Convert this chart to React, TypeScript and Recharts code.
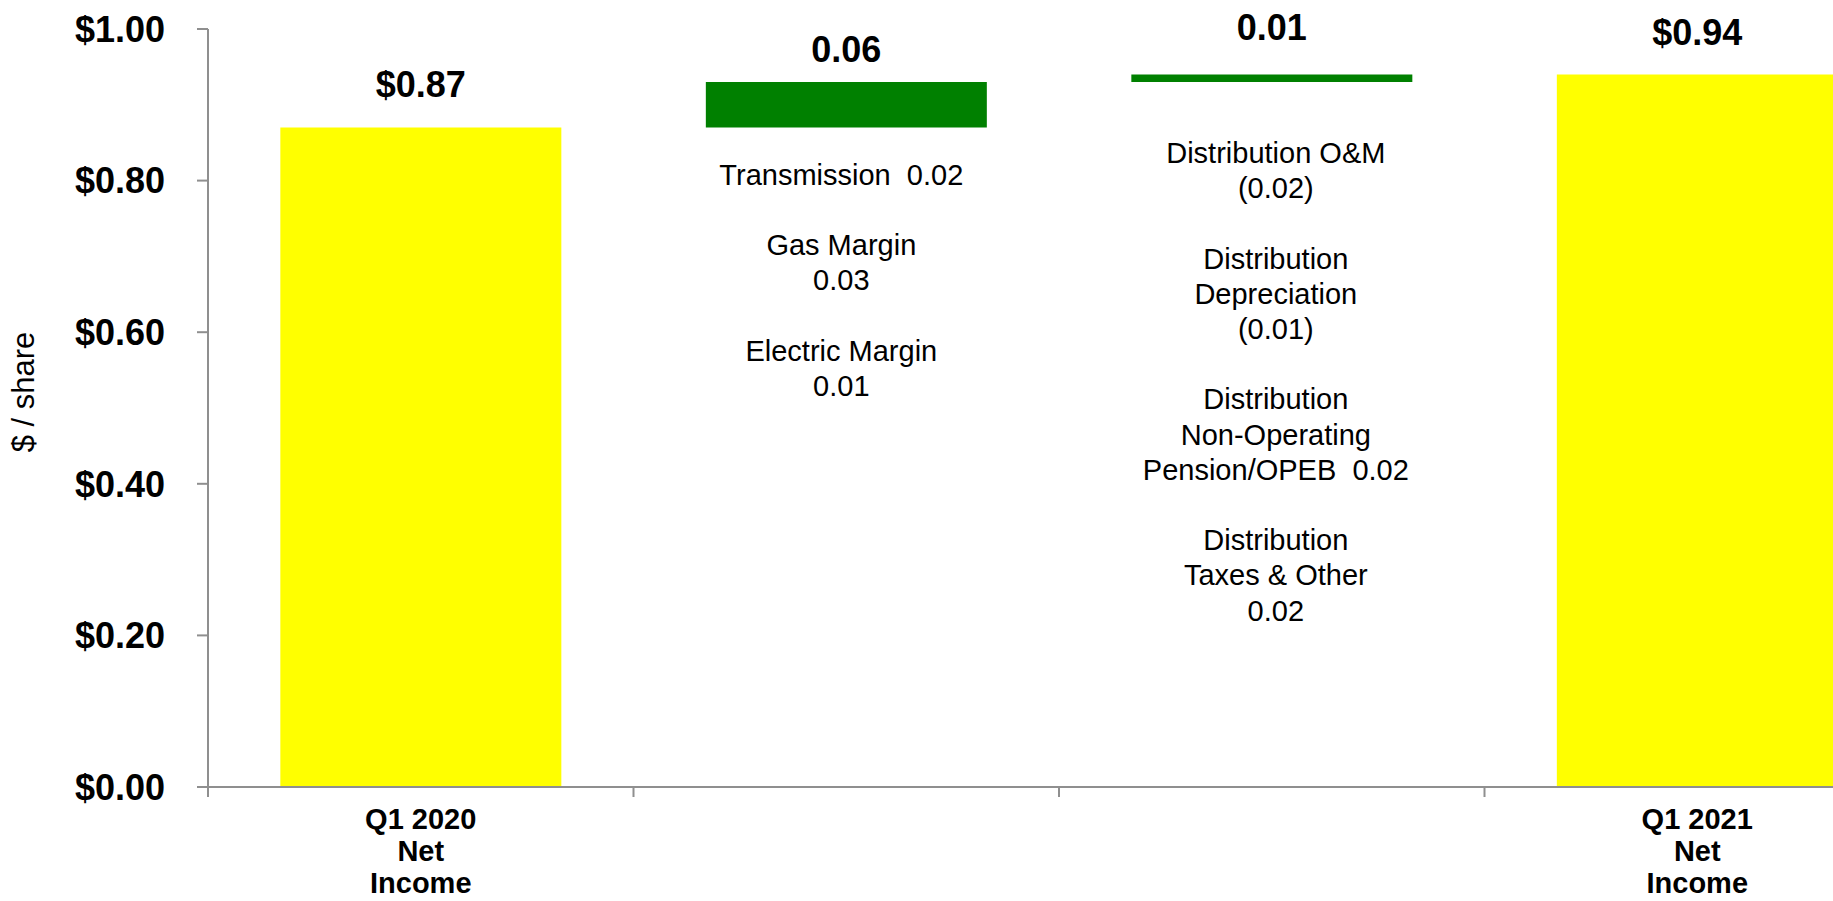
import React from 'react';
import { BarChart, Bar, XAxis, YAxis, Cell, LabelList, Label } from 'recharts';

// waterfall: Q1 2020 -> drivers -> Q1 2021 ($ / share)
const categories = ['Q1 2020 Net Income', 'Transmission & Margins', 'Distribution', 'Q1 2021 Net Income'];
const tickLabels = [['Q1 2020', 'Net', 'Income'], [], [], ['Q1 2021', 'Net', 'Income']];
const baseValues = [0, 0.87, 0.93, 0];
const deltaValues = [0.87, 0.06, 0.01, 0.94];
const barLabels = ['$0.87', '0.06', '0.01', '$0.94'];
const barColors = ['#FFFF00', '#008000', '#008000', '#FFFF00'];
const yTicks = [0, 0.2, 0.4, 0.6, 0.8, 1.0];
const notes: string[][] = [
  [],
  ['Transmission  0.02', '', 'Gas Margin', '0.03', '', 'Electric Margin', '0.01'],
  [
    'Distribution O&M', '(0.02)', '',
    'Distribution', 'Depreciation', '(0.01)', '',
    'Distribution', 'Non-Operating', 'Pension/OPEB  0.02', '',
    'Distribution', 'Taxes & Other', '0.02',
  ],
  [],
];

const data = categories.map((name, i) => ({
  name,
  base: baseValues[i],
  delta: deltaValues[i],
  label: barLabels[i],
}));

const FONT = '"Liberation Sans", Arial, Helvetica, sans-serif';
const AXIS = '#8f8f8f';
// hand-placed text boxes in the original slide
const labelGap = [31, 20, 34, 29];
const noteGap = [0, 47, 71, 0];
const noteShift = [0, -5, 4, 0];
const noteLine = 35.2;

const ValueLabel = (props: any) => {
  const vb = props.viewBox || props;
  const idx = props.index;
  return (
    <text x={vb.x + vb.width / 2} y={vb.y - labelGap[idx]} textAnchor="middle" fontSize={36}
      fontWeight="bold" fill="#000" fontFamily={FONT}>
      {props.value}
    </text>
  );
};

const NoteLabel = (props: any) => {
  const vb = props.viewBox || props;
  const idx = props.index;
  const lines = notes[idx];
  if (!lines || !lines.length) return null;
  const cx = vb.x + vb.width / 2 + noteShift[idx];
  const top = vb.y + vb.height + noteGap[idx];
  return (
    <g>
      {lines.map((line, i) =>
        line ? (
          <text key={i} x={cx} y={top + i * noteLine + 10} textAnchor="middle" fontSize={29}
            fill="#000" fontFamily={FONT} style={{ whiteSpace: 'pre' }}>
            {line}
          </text>
        ) : null
      )}
    </g>
  );
};

// category labels centred under bars, tick marks on the category boundaries
const CategoryTick = (props: any) => {
  const { x, y, payload, width, visibleTicksCount, index } = props;
  const half = payload.offset || width / visibleTicksCount / 2;
  const lines = tickLabels[index] || [];
  const edges = index === visibleTicksCount - 1 ? [x - half, x + half] : [x - half];
  return (
    <g>
      {edges.map((ex, i) => (
        <line key={`e${i}`} x1={ex} x2={ex} y1={y} y2={y + 10} stroke={AXIS} strokeWidth={2} />
      ))}
      {lines.map((l, i) => (
        <text key={i} x={x} y={y + 42 + i * 32} textAnchor="middle" fontSize={29}
          fontWeight="bold" fill="#000" fontFamily={FONT}>
          {l}
        </text>
      ))}
    </g>
  );
};

const YTitle = (props: any) => {
  const vb = props.viewBox;
  const cx = vb.x + 23;
  const cy = vb.y + vb.height / 2 - 16;
  return (
    <text x={cx} y={cy} transform={`rotate(-90, ${cx}, ${cy})`} textAnchor="middle"
      dominantBaseline="central" fontSize={31} fill="#000" fontFamily={FONT}>
      $ / share
    </text>
  );
};

export default function App() {
  return (
    <div style={{ position: 'fixed', left: 0, top: 0, width: 1833, height: 901, overflow: 'hidden', background: '#fff' }}>
      <BarChart
        width={1960}
        height={901}
        data={data}
        margin={{ top: 29, right: 50, bottom: 0, left: 0 }}
        barCategoryGap="17%"
        style={{ fontFamily: FONT }}
      >
        <XAxis
          dataKey="name"
          height={114}
          axisLine={{ stroke: AXIS, strokeWidth: 2 }}
          tickLine={false}
          tickSize={0}
          tickMargin={0}
          interval={0}
          tick={<CategoryTick />}
        />
        <YAxis
          width={208}
          domain={[0, 1]}
          ticks={yTicks}
          interval={0}
          tickFormatter={(v: number) => `$${v.toFixed(2)}`}
          axisLine={{ stroke: AXIS, strokeWidth: 2 }}
          tickLine={{ stroke: AXIS, strokeWidth: 2 }}
          tickSize={11}
          tickMargin={32}
          tick={{ fontSize: 36, fontWeight: 'bold', fill: '#000', fontFamily: FONT }}
        >
          <Label content={<YTitle />} />
        </YAxis>
        <Bar dataKey="base" stackId="w" fill="transparent" isAnimationActive={false} />
        <Bar dataKey="delta" stackId="w" isAnimationActive={false}>
          {data.map((d, i) => (
            <Cell key={d.name} fill={barColors[i]} />
          ))}
          <LabelList dataKey="label" content={<ValueLabel />} />
          <LabelList dataKey="label" content={<NoteLabel />} />
        </Bar>
      </BarChart>
    </div>
  );
}
